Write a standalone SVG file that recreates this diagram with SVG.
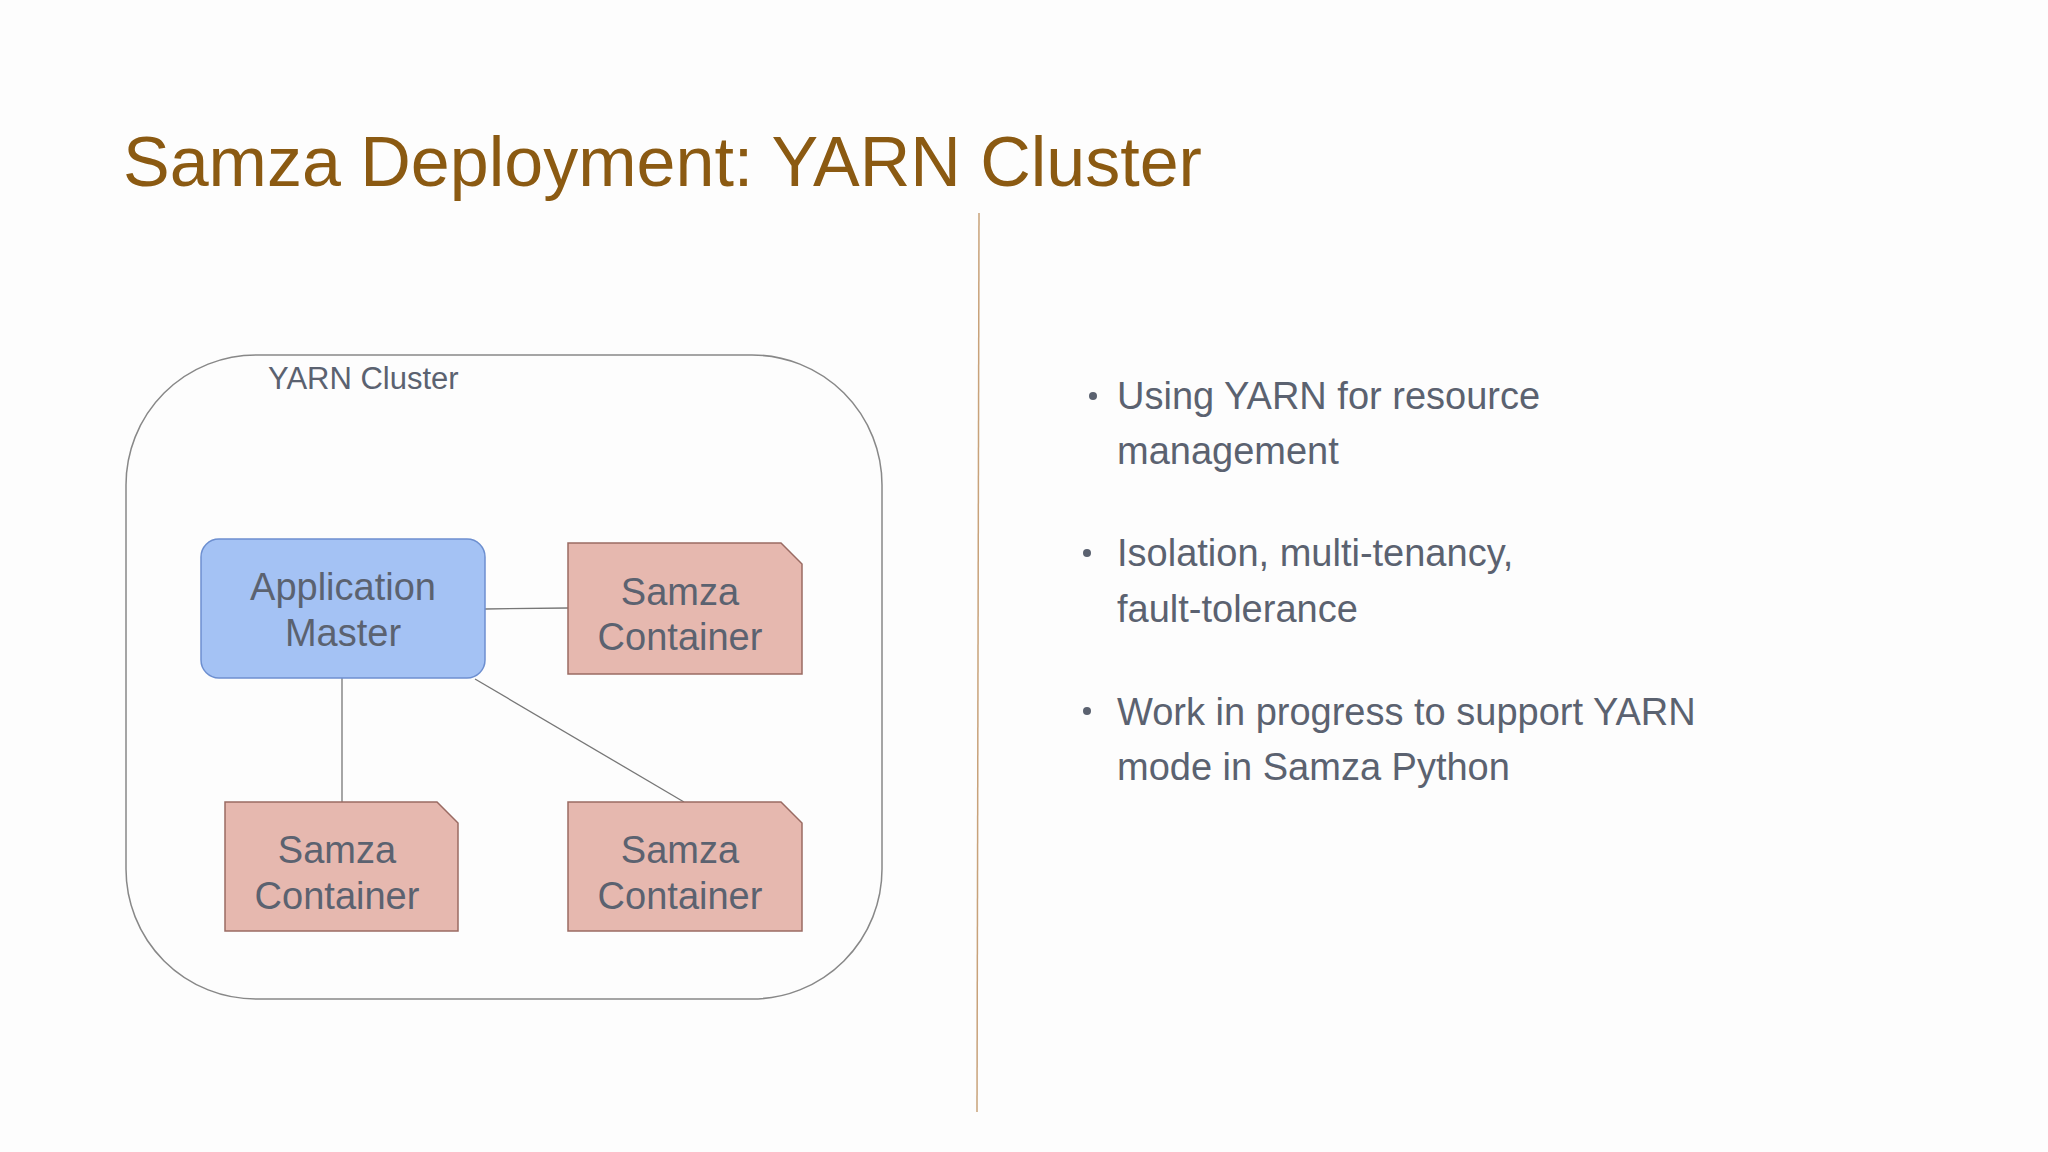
<svg xmlns="http://www.w3.org/2000/svg" width="2048" height="1152" viewBox="0 0 2048 1152">
<style>
text{font-family:"Liberation Sans","DejaVu Sans",sans-serif;fill:#5b6270}
.n{font-size:38px;text-anchor:middle}
.b{font-size:38px}
.c{fill:#E6B8AF;stroke:#9a6b63;stroke-width:1.5}
</style>
<rect width="2048" height="1152" fill="#fdfdfd"/>
<text x="123" y="186" style="font-size:70px;fill:#8B5A12">Samza Deployment: YARN Cluster</text>
<line x1="979" y1="213" x2="977" y2="1112" stroke="#C8A27A" stroke-width="1.5"/>
<g id="cluster"><rect x="126" y="355" width="756" height="644" rx="130" fill="none" stroke="#888" stroke-width="1.5"/>
<text x="268" y="389" style="font-size:31px">YARN Cluster</text></g>
<g id="connectors" stroke="#777" stroke-width="1.3">
<line x1="485" y1="609" x2="568" y2="608"/>
<line x1="342" y1="678" x2="342" y2="802"/>
<line x1="475" y1="679" x2="684" y2="802"/>
</g>
<g id="am"><rect x="201" y="539" width="284" height="139" rx="18" fill="#A4C2F4" stroke="#6d8fd0" stroke-width="1.5"/>
<text class="n" x="343" y="600">Application</text><text class="n" x="343" y="646">Master</text></g>
<g id="c1"><path class="c" d="M568 543H781L802 564V674H568Z"/><text class="n" x="680" y="605">Samza</text><text class="n" x="680" y="650">Container</text></g>
<g id="c2"><path class="c" d="M225 802H437L458 823V931H225Z"/><text class="n" x="337" y="863">Samza</text><text class="n" x="337" y="909">Container</text></g>
<g id="c3"><path class="c" d="M568 802H781L802 823V931H568Z"/><text class="n" x="680" y="863">Samza</text><text class="n" x="680" y="909">Container</text></g>
<g id="bullets">
<circle cx="1093" cy="396" r="4" fill="#5b6270"/><circle cx="1087" cy="553" r="4" fill="#5b6270"/><circle cx="1087" cy="711" r="4" fill="#5b6270"/>
<text class="b" x="1117" y="409">Using YARN for resource</text><text class="b" x="1117" y="464">management</text>
<text class="b" x="1117" y="566">Isolation, multi-tenancy,</text><text class="b" x="1117" y="622">fault-tolerance</text>
<text class="b" x="1117" y="725">Work in progress to support YARN</text><text class="b" x="1117" y="780">mode in Samza Python</text>
</g>
</svg>
